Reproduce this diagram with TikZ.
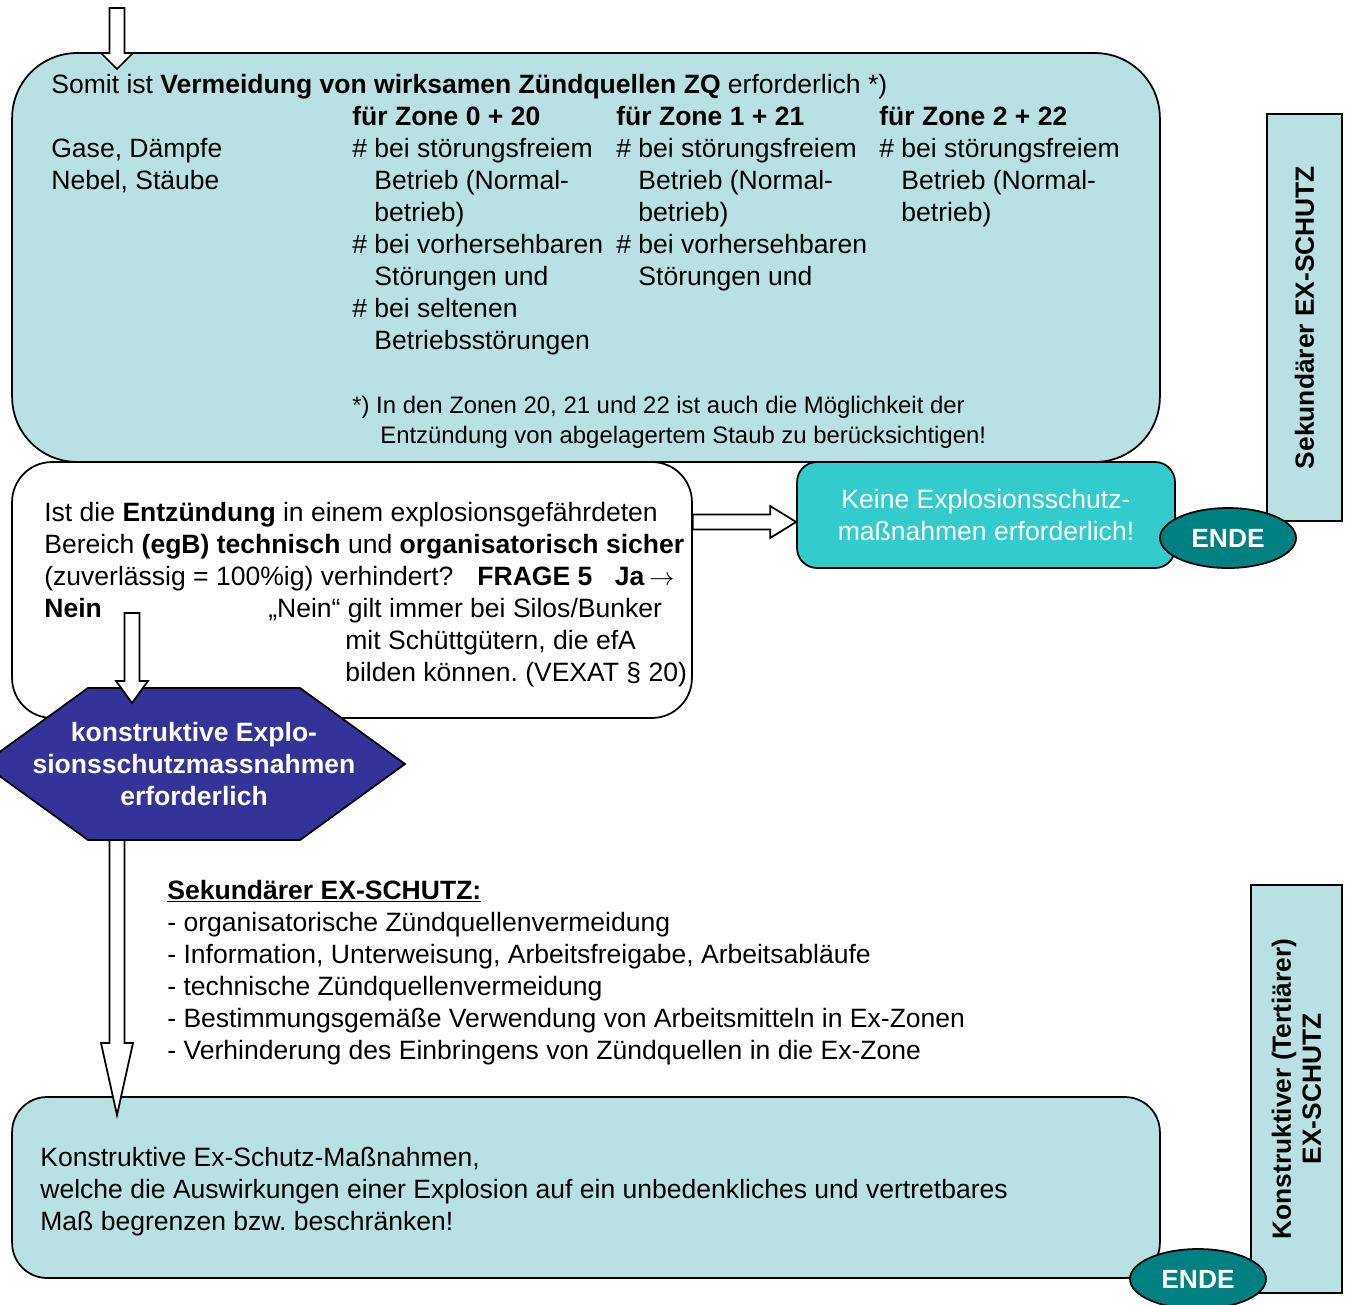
\documentclass[tikz,border=0pt]{standalone}
\usepackage{fontspec}
\setmainfont{Liberation Sans}
\usetikzlibrary{calc,shapes.geometric}
\definecolor{paleteal}{HTML}{B9E0E3}
\definecolor{aqua}{HTML}{33CCCC}
\definecolor{darkteal}{HTML}{008080}
\definecolor{exindigo}{HTML}{333399}
\frenchspacing
\newcommand{\hashind}{\phantom{\# }}
\newcommand{\textrows}[4]{\foreach \t [count=\i] in {#4} {\node[txt] (#1-\i) at (#2,{#3+32*(\i-1)}) {\t};}}
\newcommand{\hollowarrow}[3][0.4cm]{%
  \path ($(#3)!#1!(#2)$) coordinate (hb);
  \draw[blockarrow] ($(#2)!0.15cm!90:(#3)$) -- ($(hb)!0.15cm!90:(#3)$) -- ($(hb)!0.32cm!90:(#3)$) -- (#3)
    -- ($(hb)!0.32cm!-90:(#3)$) -- ($(hb)!0.15cm!-90:(#3)$) -- ($(#2)!0.15cm!-90:(#3)$) -- cycle;}
\tikzset{
  box/.style={draw, line width=1pt, fill=paleteal},
  txt/.style={anchor=base west, inner sep=0pt, font=\fontsize{15.1}{18.1}\selectfont},
  fnote/.style={txt, font=\fontsize{13.6}{16}\selectfont},
  ende/.style={ellipse, draw, line width=1pt, fill=darkteal, text=white,
    font=\fontsize{15}{18}\selectfont\bfseries, minimum width=2.72cm, minimum height=1.2cm},
  blockarrow/.style={draw, line width=1pt, fill=white, line join=miter},
  hexa/.style={draw, line width=1pt, fill=exindigo},
}
\begin{document}
\begin{tikzpicture}[x=0.02cm, y=-0.02cm]
    \useasboundingbox (0,0) rectangle (1350,1305);
    % boxes
    \node[box, rounded corners=1.3cm, minimum width=22.96cm, minimum height=8.18cm] (zq) at (586,257.5) {};
    \node[box, fill=white, rounded corners=0.8cm, minimum width=13.6cm, minimum height=5.12cm] (frage) at (352,590) {};
    \node[box, rotate=90, minimum width=8.14cm, minimum height=1.5cm,
      font=\fontsize{15}{18.1}\selectfont\bfseries] (sek) at (1304.5,317.5) {Sekundärer EX-SCHUTZ};
    \node[box, rotate=90, minimum width=8.16cm, minimum height=1.82cm, align=center,
      font=\fontsize{15}{17}\selectfont\bfseries] (tert) at (1296.5,1089) {Konstruktiver (Tertiärer)\\EX-SCHUTZ};
    \node[box, fill=aqua, rounded corners=0.4cm, minimum width=7.56cm, minimum height=2.12cm, align=center,
      text=white, font=\fontsize{15.1}{18.1}\selectfont] (keine) at (986,515) {Keine Explosionsschutz-\\maßnahmen erforderlich!};
    \node[ende] (ende1) at (1228,538) {ENDE};
    % hexagon
    \coordinate (hexc) at (194,764);
    \draw[hexa] ($(hexc)+(-211,0)$) -- ++(105,-76) -- ++(212,0) -- ++(105,76) -- ++(-105,76) -- ++(-212,0) -- cycle;
    \node[text=white, align=center, font=\fontsize{15.1}{18.1}\selectfont\bfseries] (konst) at (hexc)
      {konstruktive Explo-\\sionsschutzmassnahmen\\erforderlich};
    \node[box, rounded corners=0.7cm, minimum width=22.96cm, minimum height=3.62cm] (massn) at (586,1187.5) {};
    \node[ende] (ende2) at (1198,1279) {ENDE};
    % arrows
    \coordinate (in) at (117,8);
    \coordinate (inTip) at (117,69);
    \hollowarrow[0.32cm]{in}{inTip}
    \coordinate (ja) at (frage.east |- 0,522);
    \coordinate (jaTip) at (keine.west |- 0,522);
    \hollowarrow[0.52cm]{ja}{jaTip}
    \coordinate (nein) at (132,613);
    \coordinate (neinTip) at (132,703);
    \hollowarrow[0.44cm]{nein}{neinTip}
    \coordinate (down) at (117,840);
    \coordinate (downTip) at (117,1115);
    \hollowarrow[1.44cm]{down}{downTip}
    % texts
    \node[txt] (somit) at (51,93) {Somit ist \textbf{Vermeidung von wirksamen Zündquellen ZQ} erforderlich *)};
    \textrows{stoff}{51}{157}{{Gase, Dämpfe},{Nebel, Stäube}}
    \textrows{zA}{352}{125}{%
      {\textbf{für Zone 0 + 20}},{\# bei störungsfreiem},{\hashind Betrieb (Normal-},{\hashind betrieb)},%
      {\# bei vorhersehbaren},{\hashind Störungen und},{\# bei seltenen},{\hashind Betriebsstörungen}}
    \textrows{zB}{616}{125}{%
      {\textbf{für Zone 1 + 21}},{\# bei störungsfreiem},{\hashind Betrieb (Normal-},{\hashind betrieb)},%
      {\# bei vorhersehbaren},{\hashind Störungen und}}
    \textrows{zC}{879}{125}{%
      {\textbf{für Zone 2 + 22}},{\# bei störungsfreiem},{\hashind Betrieb (Normal-},{\hashind betrieb)}}
    \node[fnote] (fn1) at (352,413) {*) In den Zonen 20, 21 und 22 ist auch die Möglichkeit der};
    \node[fnote] (fn2) at (380,443) {Entzündung von abgelagertem Staub zu berücksichtigen!};
    \textrows{ist}{44}{521}{%
      {Ist die \textbf{Entzündung} in einem explosionsgefährdeten},%
      {Bereich \textbf{(egB) technisch} und \textbf{organisatorisch sicher}},%
      {(zuverlässig = 100\%ig) verhindert?\hspace{0.9em}\textbf{FRAGE 5}\hspace{0.85em}\textbf{Ja}\,$\rightarrow$},%
      {\textbf{Nein}}}
    \node[txt] (silo) at (268,617) {„Nein“ gilt immer bei Silos/Bunker};
    \textrows{efa}{345}{649}{{mit Schüttgütern, die efA},{bilden können. (VEXAT § 20)}}
    \textrows{sekl}{167}{899}{%
      {\underline{\textbf{Sekundärer EX-SCHUTZ:}}},%
      {- organisatorische Zündquellenvermeidung},%
      {- Information, Unterweisung, Arbeitsfreigabe, Arbeitsabläufe},%
      {- technische Zündquellenvermeidung},%
      {- Bestimmungsgemäße Verwendung von Arbeitsmitteln in Ex-Zonen},%
      {- Verhinderung des Einbringens von Zündquellen in die Ex-Zone}}
    \textrows{mass}{40}{1166}{%
      {Konstruktive Ex-Schutz-Maßnahmen,},%
      {welche die Auswirkungen einer Explosion auf ein unbedenkliches und vertretbares},%
      {Maß begrenzen bzw. beschränken!}}
\end{tikzpicture}
\end{document}
